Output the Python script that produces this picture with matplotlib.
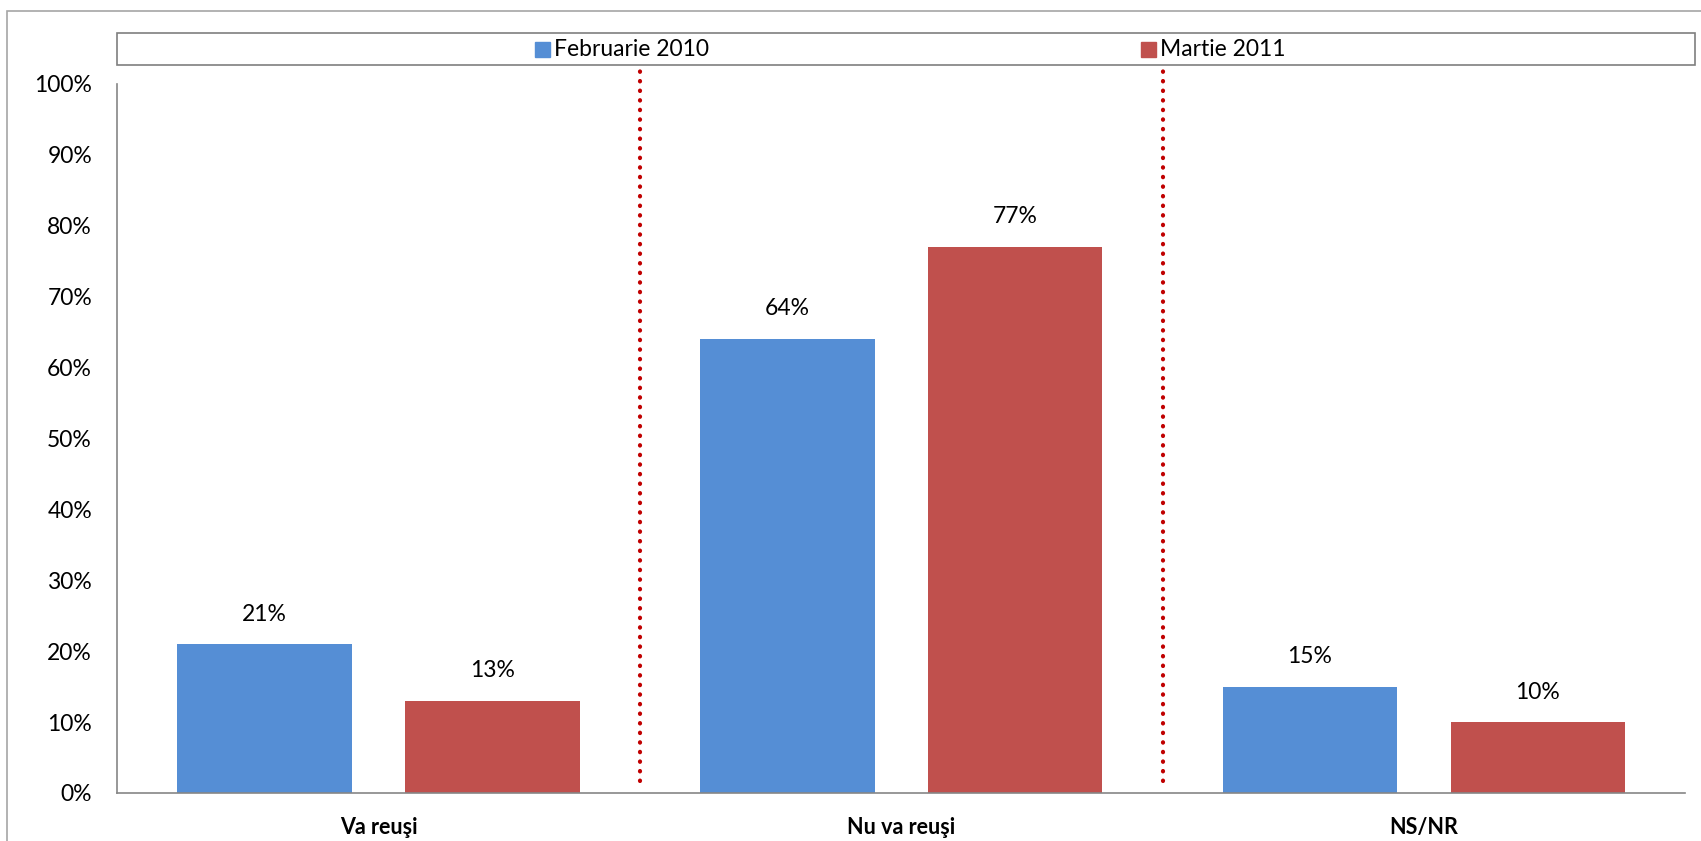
import numpy as np
import matplotlib.pyplot as plt
from matplotlib.patches import Rectangle

#Categories, series and labels
categories = ['Va reuşi', 'Nu va reuşi', 'NS/NR']
series_names = ['Februarie 2010', 'Martie 2011']
feb_2010 = [21, 64, 15]
martie_2011 = [13, 77, 10]
colors = ['#558ED5', '#C0504D']
yticks = [0, 10, 20, 30, 40, 50, 60, 70, 80, 90, 100]

plt.rcParams['font.family'] = ['Lato', 'DejaVu Sans']

fig = plt.figure(figsize=(17.01, 8.41), dpi=100)
ax = fig.add_axes([0.0688, 0.0571, 0.922, 0.8436])

#Outer chart border (only top and left visible)
fig.add_artist(Rectangle((7/1701, -0.1), 1.2, 1 - 11/841 + 0.1, transform=fig.transFigure,
                         fill=False, edgecolor='#A6A6A6', linewidth=1.2))

x = np.arange(len(categories))
width = 0.334
offset = 0.218

bars1 = ax.bar(x - offset, feb_2010, width, color=colors[0])
bars2 = ax.bar(x + offset, martie_2011, width, color=colors[1])

#Value labels above the bars
for bars, vals in [(bars1, feb_2010), (bars2, martie_2011)]:
    for b, v in zip(bars, vals):
        ax.annotate(str(v) + '%', (b.get_x() + b.get_width()/2, v),
                    xytext=(0, 14), textcoords='offset points',
                    ha='center', va='bottom', fontsize=16.5)

#Red dotted separators between categories
for xs in [0.5, 1.5]:
    ax.plot([xs, xs], [1.7, 102], color='#C00000', linewidth=3,
            linestyle=(0, (0.1, 2.2)), dash_capstyle='round', clip_on=False)

ax.set_xlim(-0.5, 2.5)
ax.set_ylim(0, 100)
ax.set_yticks(yticks)
ax.set_yticklabels([str(t) + '%' for t in yticks], fontsize=16.5)
ax.set_xticks(x)
ax.set_xticklabels(categories, fontsize=15.5, fontweight='bold')
ax.tick_params(axis='y', length=0, pad=18)
ax.tick_params(axis='x', length=0, pad=17)

for s in ['top', 'right']:
    ax.spines[s].set_visible(False)
for s in ['left', 'bottom']:
    ax.spines[s].set_color('#868686')
    ax.spines[s].set_linewidth(1.2)

#Legend box drawn across the top
fig.add_artist(Rectangle((117/1701, 1 - 65/841), (1695 - 117)/1701, 32/841,
                         transform=fig.transFigure, fill=False,
                         edgecolor='#7F7F7F', linewidth=1.2))
legend_x = [535, 1141]
for lx, name, c in zip(legend_x, series_names, colors):
    fig.add_artist(Rectangle((lx/1701, 1 - 57/841), 15/1701, 15/841,
                             transform=fig.transFigure, color=c))
    fig.text((lx + 19)/1701, 1 - 49/841, name, fontsize=16.5, va='center', ha='left')

plt.savefig('out.png', dpi=100)
